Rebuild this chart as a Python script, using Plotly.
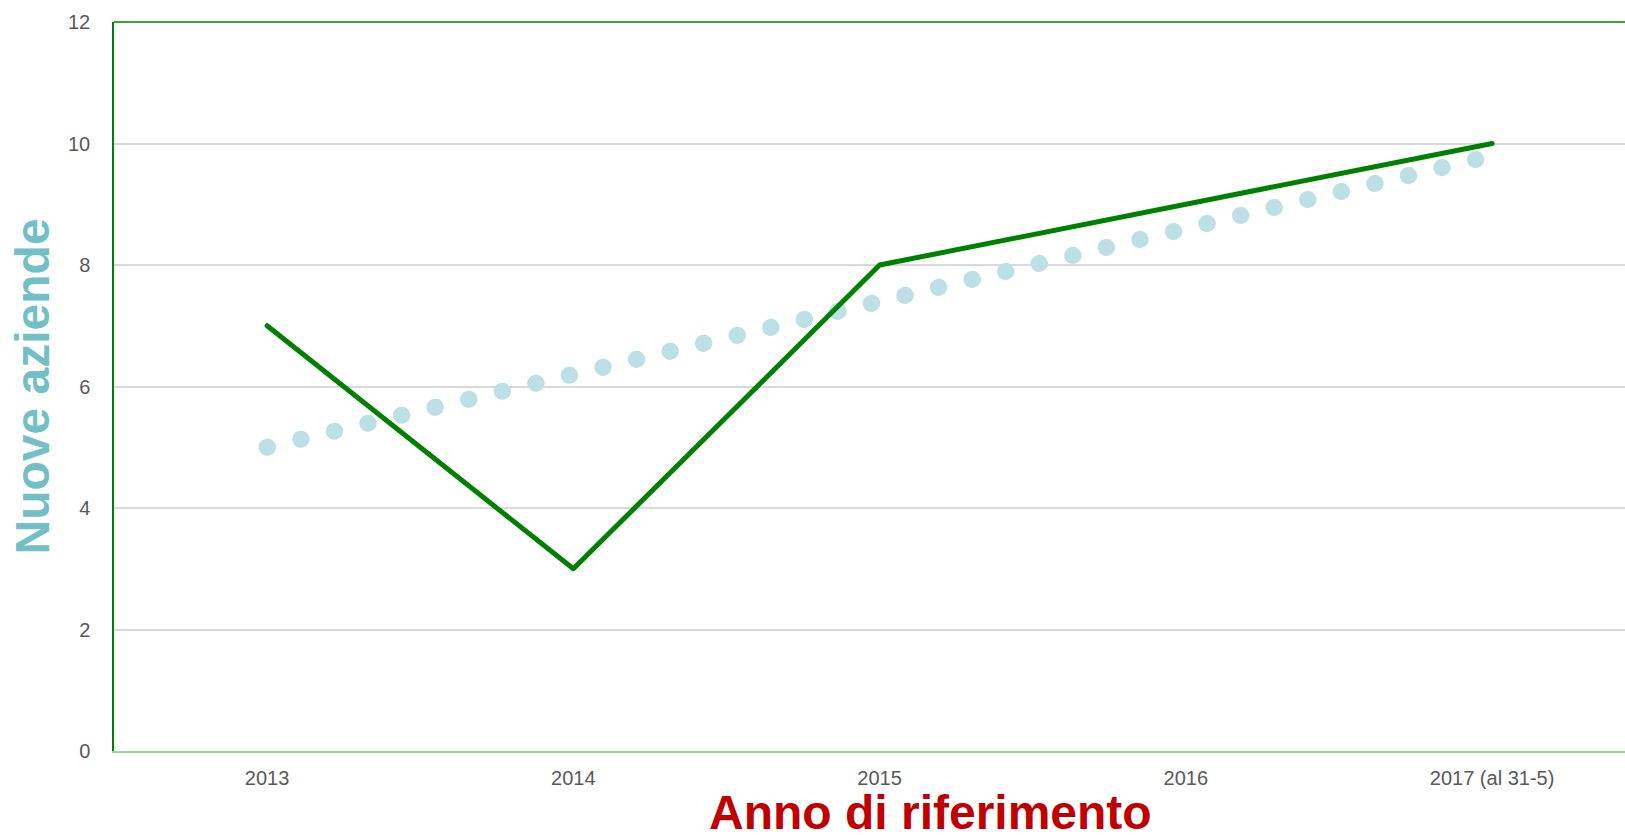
import plotly.graph_objects as go

# Data
categories = ["2013", "2014", "2015", "2016", "2017 (al 31-5)"]
nuove_aziende = [7, 3, 8, 9, 10]
trend_values = [5.0, 6.2, 7.4, 8.6, 9.8]
y_ticks = [0, 2, 4, 6, 8, 10, 12]

W, H = 1625, 835
L, T, B, R = 114, 22, 84, 0

fig = go.Figure()
fig.add_trace(go.Scatter(
    x=categories, y=trend_values, mode="lines",
    line=dict(color="#bde0e4", width=17, dash="0.5px,34px"),
    hoverinfo="skip", showlegend=False,
))
fig.add_trace(go.Scatter(
    x=categories, y=nuove_aziende, mode="lines",
    line=dict(color="#008000", width=5),
    showlegend=False,
))

font_fam = "Liberation Sans, Arial, sans-serif"
fig.update_layout(
    width=W, height=H,
    margin=dict(l=L, r=R, t=T, b=B, pad=0),
    paper_bgcolor="white", plot_bgcolor="white",
    font=dict(family=font_fam, color="#595959", size=20),
    xaxis=dict(
        type="category", range=[-0.5, 4.434],
        showgrid=False, zeroline=False,
        showline=True, linecolor="#9fd49f", linewidth=1.5,
        ticks="", ticklabelstandoff=8,
        tickfont=dict(size=20, color="#595959", family=font_fam),
    ),
    yaxis=dict(
        range=[0, 12], tickvals=y_ticks,
        showgrid=True, gridcolor="#d9d9d9", gridwidth=1.5,
        zeroline=False,
        showline=True, linecolor="#008000", linewidth=1.5,
        ticks="", ticklabelstandoff=18,
        tickfont=dict(size=20, color="#595959", family=font_fam),
    ),
    shapes=[dict(type="line", xref="paper", yref="paper", x0=0, x1=1, y0=1, y1=1,
                 line=dict(color="#008000", width=1.5))],
    annotations=[
        dict(text="<b>Nuove aziende</b>", xref="paper", yref="paper",
             x=(32 - L) / (W - L - R), y=0.5, textangle=-90,
             xanchor="center", yanchor="middle", showarrow=False,
             font=dict(size=48, color="#72bfc5", family=font_fam)),
        dict(text="<b>Anno di riferimento</b>", xref="paper", yref="paper",
             x=(930 - L) / (W - L - R), y=-(812 - (H - B)) / (H - B - T),
             xanchor="center", yanchor="middle", showarrow=False,
             font=dict(size=48, color="#c00000", family=font_fam)),
    ],
)

post = """
document.body.style.margin='0';
document.body.style.padding='0';
var s=document.createElement('style');
s.innerHTML='html,body{margin:0 !important;padding:0 !important;overflow:hidden;} .js-line{stroke-linecap:round !important;stroke-linejoin:round !important;}';
document.head.appendChild(s);
"""
fig.write_html("out.html", post_script=post, config={"displayModeBar": False})
